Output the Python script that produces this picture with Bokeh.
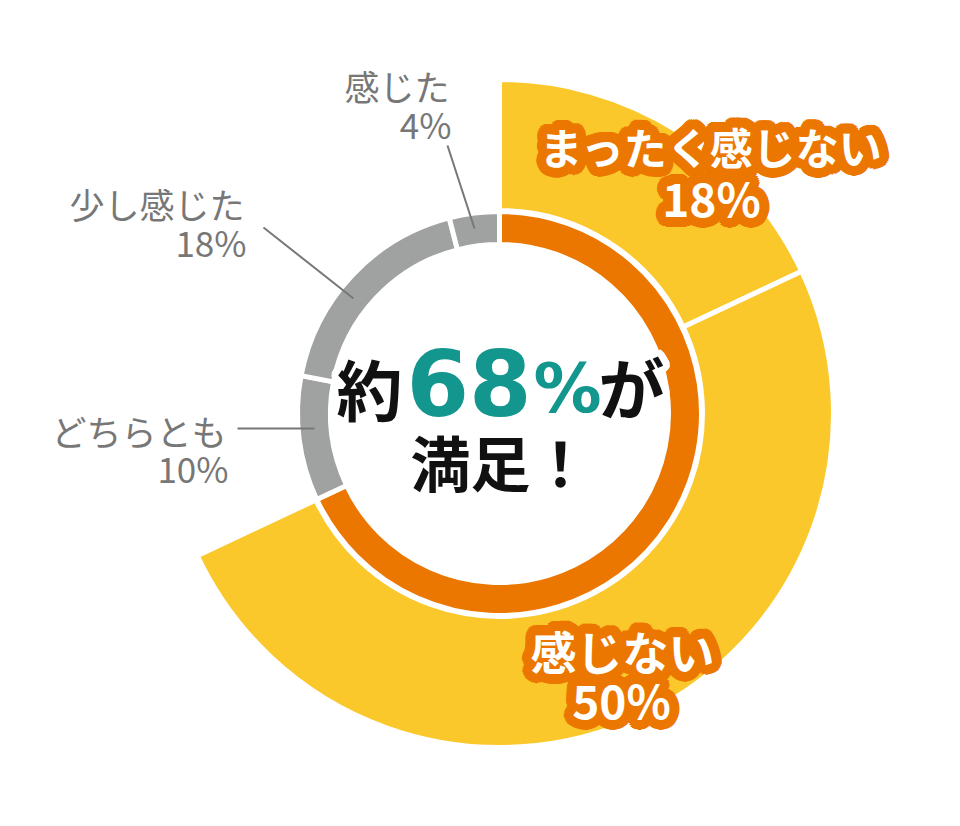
import math
import numpy as np
from bokeh.plotting import figure
from bokeh.models import Range1d, ColumnDataSource
from bokeh.core.properties import value
from bokeh.embed import file_html
from bokeh.resources import INLINE

# ---------------- data ----------------
categories = ["まったく感じない", "感じない", "どちらとも", "少し感じた", "感じた"]
percents = [18, 50, 10, 18, 4]
satisfied = [True, True, False, False, False]
headline_prefix = "約"
headline_suffix = "が"
headline_line2 = "満足！"

# ---------------- style ----------------
YELLOW = "#FBC82B"
ORANGE = "#EC7700"
GRAY = "#A0A2A1"
LABEL_GRAY = "#777777"
TEAL = "#13968E"
JP = "Noto Sans CJK JP"

W, H = 944, 810
PAGE_H = 826


def Y(py):
    return PAGE_H - py


p = figure(width=W, height=H, x_range=Range1d(0, W), y_range=Range1d(PAGE_H - H, PAGE_H),
           output_backend="svg", toolbar_location=None, min_border=0,
           x_axis_type=None, y_axis_type=None)
p.grid.visible = False
p.outline_line_color = None
p.background_fill_color = "white"
p.border_fill_color = "white"

CX, CY = 499, Y(413)
R_IN, R_OUT = 169, 202
Y_IN, Y_OUT = 203, 334

cum = np.concatenate([[0], np.cumsum(percents)]) / 100.0


def ang(frac):
    return math.pi / 2 - 2 * math.pi * frac


# outer yellow wedges (satisfied categories)
ss, se = [], []
for i, ok in enumerate(satisfied):
    if ok:
        ss.append(ang(cum[i]))
        se.append(ang(cum[i + 1]))
p.annular_wedge(x=CX, y=CY, inner_radius=Y_IN, outer_radius=Y_OUT,
                start_angle=ss, end_angle=se, direction="clock",
                fill_color=YELLOW, line_color="white", line_width=5)

# inner ring: satisfied merged (orange), others gray
sat_total = sum(v for v, ok in zip(percents, satisfied) if ok) / 100.0
ring_s = [ang(0)]
ring_e = [ang(sat_total)]
ring_c = [ORANGE]
for i, ok in enumerate(satisfied):
    if not ok:
        ring_s.append(ang(cum[i]))
        ring_e.append(ang(cum[i + 1]))
        ring_c.append(GRAY)
p.annular_wedge(x=CX, y=CY, inner_radius=R_IN, outer_radius=R_OUT,
                start_angle=ring_s, end_angle=ring_e, direction="clock",
                fill_color=ring_c, line_color="white", line_width=5)


def halo_offsets(r, n=32):
    xo, yo = [], []
    for rr in (r / 3, 2 * r / 3, r):
        for k in range(n):
            a = 2 * math.pi * k / n
            xo.append(rr * math.cos(a))
            yo.append(rr * math.sin(a))
    return xo, yo


items = []


def text_item(x, y, t, size, color, font=JP, style="bold", align="center",
              baseline="middle", halo=None, halo_r=0):
    items.append(dict(x=x, y=y, t=t, size=size, color=color, font=font, style=style,
                      align=align, baseline=baseline, halo=halo, halo_r=halo_r))


def render_items():
    for it in items:
        if it["halo"]:
            xo, yo = halo_offsets(it["halo_r"])
            n = len(xo)
            src = ColumnDataSource(dict(x=[it["x"]] * n, y=[it["y"]] * n, t=[it["t"]] * n, xo=xo, yo=yo))
            p.text(x="x", y="y", text="t", x_offset="xo", y_offset="yo", source=src,
                   text_color=it["halo"], text_font=value(it["font"]), text_font_style=it["style"],
                   text_font_size=it["size"], text_align=it["align"], text_baseline=it["baseline"])
    for it in items:
        p.text(x=[it["x"]], y=[it["y"]], text=[it["t"]], text_color=it["color"],
               text_font=value(it["font"]), text_font_style=it["style"],
               text_font_size=it["size"], text_align=it["align"], text_baseline=it["baseline"])


# center headline (white halo)
total_pct = int(round(sat_total * 100))
text_item(369, Y(386), headline_prefix, "66px", "#111111", halo="white", halo_r=7)
text_item(406, Y(382), str(total_pct), "90px", TEAL, font="DejaVu Sans",
          align="left", halo="white", halo_r=7)
text_item(533, Y(388), "%", "68px", TEAL, font="DejaVu Sans",
          align="left", halo="white", halo_r=7)
text_item(631, Y(384), headline_suffix, "66px", "#111111", halo="white", halo_r=7)
text_item(500, Y(460), headline_line2, "60px", "#111111", halo="white", halo_r=7)

# orange outlined labels for satisfied categories
text_item(711, Y(145), categories[0], "43px", "white", halo=ORANGE, halo_r=10)
text_item(711, Y(196), f"{percents[0]}%", "46px", "white", halo=ORANGE, halo_r=10)
text_item(622, Y(649), categories[1], "46px", "white", halo=ORANGE, halo_r=10)
text_item(621, Y(698), f"{percents[1]}%", "46px", "white", halo=ORANGE, halo_r=10)

# gray labels
gray_pos = {2: (226, 430, 467), 3: (244, 203, 241), 4: (449, 85, 123)}
for i, (rx, y1, y2) in gray_pos.items():
    text_item(rx, Y(y1), categories[i], "35px", LABEL_GRAY, style="normal", align="right")
    text_item(rx + 2, Y(y2), f"{percents[i]}%", "35px", LABEL_GRAY, style="normal", align="right")

render_items()

# leader lines
lead_x0 = [237, 263, 447]
lead_y0 = [Y(428), Y(227), Y(145)]
lead_x1 = [314, 353, 474]
lead_y1 = [Y(428), Y(298), Y(228)]
p.segment(x0=lead_x0, y0=lead_y0, x1=lead_x1, y1=lead_y1, line_color=LABEL_GRAY, line_width=2)

open("out.html", "w").write(file_html(p, INLINE))
